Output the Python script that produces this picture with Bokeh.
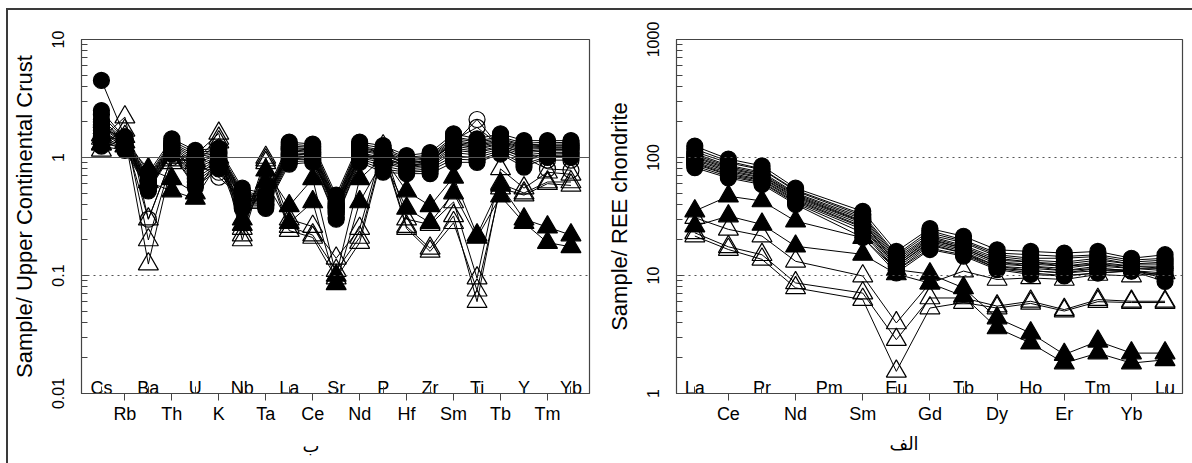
from bokeh.plotting import figure
from bokeh.models import FixedTicker, Span, Title
from bokeh.layouts import row
from bokeh.embed import file_html
from bokeh.resources import INLINE
from bokeh.core.properties import value

# ---------------- data ----------------
spider_elements = ["Cs", "Rb", "Ba", "Th", "U", "K", "Nb", "Ta", "La", "Ce", "Sr",
                   "Nd", "P", "Hf", "Zr", "Sm", "Ti", "Tb", "Y", "Tm", "Yb"]
ree_elements = ["La", "Ce", "Pr", "Nd", "Pm", "Sm", "Eu", "Gd", "Tb", "Dy", "Ho",
                "Er", "Tm", "Yb", "Lu"]
ree_measured = ["La", "Ce", "Pr", "Nd", "Sm", "Eu", "Gd", "Tb", "Dy", "Ho", "Er",
                "Tm", "Yb", "Lu"]

# Sample / Upper Continental Crust
spider_filled_circles = [
    [4.5, 1.50, 0.74, 1.44, 1.15, 1.20, 0.55, 0.49, 1.35, 1.30, 0.48, 1.35, 1.26, 1.04, 1.10, 1.59, 1.44, 1.59, 1.39, 1.39, 1.39],
    [2.5, 1.45, 0.70, 1.38, 1.10, 1.15, 0.52, 0.47, 1.30, 1.25, 0.45, 1.30, 1.20, 1.00, 1.05, 1.50, 1.38, 1.50, 1.32, 1.35, 1.33],
    [2.3, 1.42, 0.68, 1.33, 1.05, 1.12, 0.50, 0.46, 1.25, 1.22, 0.44, 1.25, 1.15, 0.98, 1.02, 1.45, 1.35, 1.45, 1.28, 1.30, 1.30],
    [2.1, 1.40, 0.66, 1.30, 1.00, 1.10, 0.49, 0.45, 1.22, 1.18, 0.42, 1.22, 1.12, 0.95, 1.00, 1.40, 1.30, 1.42, 1.25, 1.27, 1.27],
    [2.0, 1.38, 0.64, 1.28, 0.95, 1.08, 0.48, 0.44, 1.20, 1.15, 0.41, 1.20, 1.10, 0.93, 0.98, 1.36, 1.27, 1.38, 1.22, 1.25, 1.25],
    [1.9, 1.35, 0.63, 1.25, 0.90, 1.05, 0.47, 0.43, 1.17, 1.12, 0.40, 1.17, 1.07, 0.90, 0.95, 1.32, 1.24, 1.35, 1.20, 1.22, 1.22],
    [1.85, 1.33, 0.62, 1.23, 0.85, 1.02, 0.46, 0.43, 1.14, 1.10, 0.39, 1.14, 1.05, 0.88, 0.93, 1.30, 1.20, 1.32, 1.17, 1.20, 1.20],
    [1.8, 1.30, 0.60, 1.20, 0.80, 1.00, 0.45, 0.42, 1.10, 1.07, 0.38, 1.10, 1.00, 0.86, 0.90, 1.25, 1.17, 1.30, 1.13, 1.17, 1.17],
    [1.7, 1.28, 0.59, 1.18, 0.75, 0.97, 0.44, 0.41, 1.07, 1.05, 0.37, 1.07, 0.97, 0.84, 0.88, 1.20, 1.13, 1.25, 1.10, 1.14, 1.14],
    [1.6, 1.25, 0.58, 1.15, 0.70, 0.95, 0.43, 0.40, 1.03, 1.02, 0.36, 1.03, 0.93, 0.82, 0.86, 1.15, 1.10, 1.22, 1.05, 1.10, 1.10],
    [1.5, 1.23, 0.56, 1.13, 0.66, 0.90, 0.41, 0.40, 1.00, 1.00, 0.34, 1.00, 0.90, 0.80, 0.83, 1.10, 1.05, 1.18, 1.00, 1.07, 1.08],
    [1.45, 1.20, 0.55, 1.10, 0.62, 0.87, 0.40, 0.39, 0.96, 0.97, 0.33, 0.97, 0.85, 0.77, 0.80, 1.03, 1.00, 1.14, 0.95, 1.04, 1.05],
    [1.35, 1.18, 0.54, 1.09, 0.58, 0.84, 0.38, 0.38, 0.92, 0.94, 0.31, 0.94, 0.80, 0.75, 0.77, 0.97, 0.95, 1.10, 0.88, 1.02, 1.02],
    [1.25, 1.15, 0.52, 1.07, 0.56, 0.80, 0.37, 0.37, 0.88, 0.91, 0.30, 0.91, 0.75, 0.73, 0.73, 0.91, 0.91, 1.07, 0.83, 1.00, 1.00],
]
spider_open_circles = [
    [1.8, 1.45, 0.30, 1.00, 0.90, 0.68, 0.45, 0.50, 1.00, 0.95, 0.38, 1.00, 1.05, 0.90, 0.95, 1.30, 2.10, 1.20, 1.00, 0.80, 0.78],
    [1.6, 1.35, 0.55, 1.10, 0.85, 0.75, 0.42, 0.45, 1.05, 1.00, 0.35, 1.05, 1.00, 0.85, 0.90, 1.40, 1.80, 1.25, 1.10, 0.95, 0.95],
]
spider_open_triangles = [
    [1.45, 2.20, 0.30, 1.00, 1.05, 1.60, 0.25, 1.00, 0.30, 0.26, 0.14, 0.25, 1.25, 0.30, 0.27, 0.42, 0.095, 0.80, 0.55, 0.75, 0.72],
    [1.30, 1.70, 0.20, 0.95, 0.95, 1.45, 0.22, 0.95, 0.26, 0.22, 0.11, 0.21, 1.15, 0.26, 0.17, 0.32, 0.060, 0.60, 0.50, 0.62, 0.62],
    [1.15, 1.50, 0.125, 0.90, 0.90, 1.35, 0.20, 0.90, 0.24, 0.21, 0.095, 0.19, 1.10, 0.25, 0.16, 0.28, 0.075, 0.55, 0.48, 0.60, 0.58],
]
spider_filled_triangles = [
    [1.55, 1.35, 0.80, 0.66, 0.50, 1.00, 0.30, 0.78, 0.39, 0.66, 0.100, 0.66, 1.00, 0.52, 0.39, 0.68, 0.22, 0.58, 0.30, 0.257, 0.22],
    [1.30, 1.25, 0.62, 0.52, 0.45, 0.92, 0.27, 0.62, 0.28, 0.42, 0.085, 0.42, 0.95, 0.37, 0.28, 0.50, 0.21, 0.47, 0.28, 0.19, 0.175],
]

# Sample / REE chondrite (Pm not measured)
ree_filled_circles = [
    [125, 97, 85, 55, 35, 16.0, 25.0, 21.5, 16.5, 16.0, 15.5, 16.0, 14.0, 15.0],
    [118, 93, 80, 53, 33, 15.0, 24.0, 20.0, 15.5, 15.0, 14.5, 15.0, 13.5, 14.0],
    [112, 90, 79, 52, 32, 14.5, 23.0, 19.5, 15.0, 14.0, 14.0, 14.5, 13.0, 13.5],
    [108, 86, 75, 50, 31, 14.0, 22.0, 19.0, 14.5, 13.5, 13.0, 14.0, 12.5, 13.0],
    [105, 84, 73, 49, 30, 13.5, 21.5, 18.0, 14.0, 13.0, 12.5, 13.5, 12.5, 12.5],
    [102, 82, 71, 48, 29, 13.0, 21.0, 17.5, 13.5, 13.0, 12.0, 13.0, 12.0, 12.0],
    [100, 80, 70, 47, 28.5, 12.5, 20.5, 17.0, 13.0, 12.5, 12.0, 12.5, 12.0, 11.5],
    [97, 78, 68, 46, 28, 12.5, 20.0, 17.0, 13.0, 12.0, 11.5, 12.5, 11.5, 11.5],
    [95, 76, 67, 45, 27, 12.0, 19.5, 16.5, 12.5, 12.0, 11.0, 12.0, 11.5, 11.0],
    [92, 74, 65, 44, 26, 12.0, 19.0, 16.0, 12.0, 11.5, 11.0, 11.5, 11.0, 10.5],
    [90, 72, 64, 43, 25.5, 11.5, 18.5, 15.5, 12.0, 11.0, 10.5, 11.5, 11.0, 10.0],
    [88, 71, 62, 42, 24.5, 11.0, 18.0, 15.5, 11.5, 11.0, 10.5, 11.0, 11.0, 10.0],
    [85, 69, 61, 41, 23, 11.0, 17.0, 15.0, 11.5, 10.5, 10.0, 10.5, 11.0, 9.5],
    [82, 67, 59, 40, 21, 10.5, 16.6, 14.6, 11.2, 10.2, 9.9, 10.5, 10.9, 8.9],
]
ree_open_triangles = [
    [30.9, 24.6, 21.6, 13.2, 9.9, 3.96, 8.6, 10.9, 9.25, 9.55, 9.25, 10.2, 9.9, 10.5],
    [23.0, 17.5, 15.0, 8.65, 7.1, 2.86, 6.45, 6.45, 5.5, 6.05, 5.14, 6.25, 6.05, 6.05],
    [21.6, 16.6, 13.7, 7.85, 6.25, 1.54, 5.3, 5.9, 5.3, 5.8, 5.0, 6.0, 5.9, 5.9],
]
ree_filled_triangles = [
    [35.2, 47.0, 42.8, 28.9, 20.9, 11.2, 10.3, 7.85, 4.36, 3.25, 2.14, 2.77, 2.2, 2.2],
    [26.2, 31.9, 27.1, 17.7, 15.1, 10.3, 8.6, 6.67, 3.59, 2.67, 1.81, 2.2, 1.81, 1.93],
]

# ---------------- helpers ----------------
FONT = "Liberation Sans"


def make_panel(elements, xs, groups, y_range, x_range, yticks, ylabel,
               spans, arabic, arabic_offset, arabic_standoff,
               width, left_border, right_border):
    p = figure(width=width, height=453, y_axis_type="log",
               x_range=x_range, y_range=y_range,
               output_backend="svg", toolbar_location=None,
               min_border_left=left_border, min_border_right=right_border,
               min_border_top=29, min_border_bottom=70)
    p.xgrid.visible = False
    p.ygrid.visible = False
    p.outline_line_color = "#444444"
    p.outline_line_width = 1.2
    p.background_fill_color = "white"
    p.border_fill_color = "white"

    for loc, dash in spans:
        p.add_layout(Span(location=loc, dimension="width", line_color="#555555",
                          line_width=1, line_dash=dash))

    # lines first, then markers
    for rows, marker, filled, size in groups:
        for r in rows:
            p.line(xs, r, line_color="black", line_width=1)
    for rows, marker, filled, size in groups:
        for r in rows:
            p.scatter(xs, r, marker=marker, size=size,
                      fill_color="black" if filled else None,
                      line_color="black", line_width=1.2)

    idx = list(range(len(elements)))
    odd = idx[1::2]
    even = idx[0::2]
    ax = p.xaxis[0]
    ax.ticker = FixedTicker(ticks=odd, minor_ticks=even)
    ax.major_label_overrides = {i: elements[i] for i in odd}
    ax.major_tick_out = 7
    ax.major_tick_in = 0
    ax.minor_tick_in = 7
    ax.minor_tick_out = 0
    ax.major_label_standoff = 3
    ax.major_label_text_font = FONT
    ax.major_label_text_font_size = "18px"
    ax.major_label_text_color = "black"
    ax.axis_line_color = "#444444"
    ax.major_tick_line_color = "#444444"
    ax.minor_tick_line_color = "#444444"

    # labels of the even positions sit inside the frame, above the axis
    p.text(x=even, y=[y_range[0]] * len(even), text=[elements[i] for i in even],
           text_align="center", text_baseline="alphabetic", y_offset=-6,
           text_font=value(FONT), text_font_size="18px", text_color="black")

    ay = p.yaxis[0]
    minor = [m * 10.0 ** e for e in range(-3, 4) for m in range(2, 10)]
    ay.ticker = FixedTicker(ticks=yticks, minor_ticks=minor)
    ay.major_label_overrides = {t: (str(t)) for t in yticks}
    ay.major_label_orientation = "vertical"
    ay.major_tick_in = 7
    ay.major_tick_out = 0
    ay.minor_tick_in = 6
    ay.minor_tick_out = 0
    ay.major_label_standoff = 18
    ay.major_label_text_font = FONT
    ay.major_label_text_font_size = "16px"
    ay.major_label_text_color = "black"
    ay.axis_label = ylabel
    ay.axis_label_text_font = FONT
    ay.axis_label_text_font_size = "22px"
    ay.axis_label_text_font_style = "normal"
    ay.axis_label_text_color = "black"
    ay.axis_label_standoff = 12
    ay.axis_line_color = "#444444"
    ay.major_tick_line_color = "#444444"
    ay.minor_tick_line_color = "#444444"

    p.add_layout(Title(text=arabic, align="left", offset=arabic_offset,
                       text_font="DejaVu Sans", text_font_size="18px",
                       text_font_style="normal", text_color="black",
                       standoff=arabic_standoff), "below")
    return p


spider_x = [spider_elements.index(e) for e in spider_elements]
ree_x = [ree_elements.index(e) for e in ree_measured]

p1 = make_panel(
    spider_elements, spider_x,
    [(spider_open_triangles, "triangle", False, 20),
     (spider_open_circles, "circle", False, 16),
     (spider_filled_circles, "circle", True, 16),
     (spider_filled_triangles, "triangle", True, 20)],
    (0.01, 10), (-0.848, 20.79), [0.01, 0.1, 1, 10],
    "Sample/ Upper Continental Crust",
    [(1, "solid"), (0.1, "dotted")], "ب", 221, 13, 589, 71, 8)

p2 = make_panel(
    ree_elements, ree_x,
    [(ree_open_triangles, "triangle", False, 20),
     (ree_filled_circles, "circle", True, 16),
     (ree_filled_triangles, "triangle", True, 20)],
    (1, 1000), (-0.545, 14.52), [1, 10, 100, 1000],
    "Sample/ REE chondrite",
    [(100, "dotted"), (10, "dotted")], "الف", 213, 9, 595, 79, 10)

layout = row(p1, p2, margin=(8, 0, 0, 6),
             styles={"border-top": "2px solid #3a3a3a",
                     "border-left": "2px solid #3a3a3a"})

open("out.html", "w").write(file_html(layout, INLINE))
